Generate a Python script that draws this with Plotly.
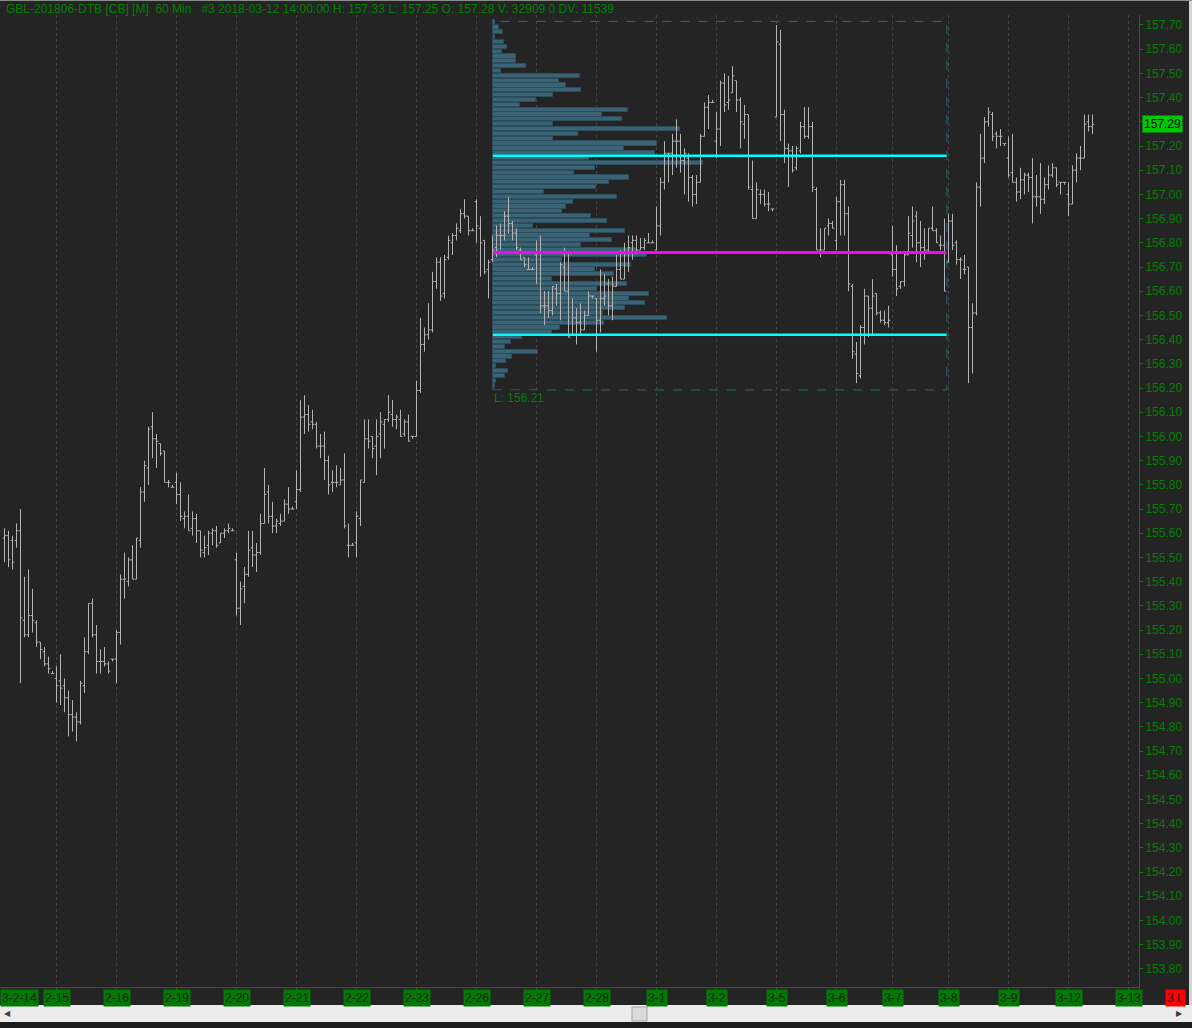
import numpy as np
import plotly.graph_objects as go

# sessions shown on the time axis; bars per session (2-14 is cut at the left edge)
sessions = ["2-14", "2-15", "2-16", "2-19", "2-20", "2-21", "2-22", "2-23", "2-26", "2-27",
            "2-28", "3-1", "3-2", "3-5", "3-6", "3-7", "3-8", "3-9", "3-12", "3-13"]
session_bars = [13, 15, 15, 15, 15, 15, 15, 15, 15, 15, 15, 15, 15, 15, 14, 14, 15, 15, 15]

# hourly OHLC, GBL 201806 (one row per session)
opens = [
    155.58, 155.59, 155.57, 155.57, 155.61, 155.24, 155.18, 155.26, 155.23, 155.15, 155.11, 155.06, 155.02,
    155.00, 154.99, 154.97, 154.92, 154.85, 154.84, 154.82, 154.97, 155.11, 155.31, 155.18, 155.07, 155.07, 155.06, 155.08,
    155.08, 155.19, 155.41, 155.40, 155.49, 155.41, 155.57, 155.77, 155.87, 156.04, 155.99, 155.97, 155.94, 155.81, 155.79,
    155.81, 155.76, 155.66, 155.67, 155.62, 155.66, 155.61, 155.52, 155.55, 155.60, 155.61, 155.56, 155.60, 155.61, 155.61,
    155.49, 155.29, 155.38, 155.43, 155.54, 155.51, 155.52, 155.64, 155.77, 155.67, 155.63, 155.64, 155.65, 155.72, 155.70,
    155.73, 155.78, 156.08, 156.09, 156.06, 156.05, 155.96, 155.96, 155.90, 155.81, 155.81, 155.80, 155.82, 155.55, 155.55,
    155.56, 155.66, 155.81, 155.99, 156.00, 155.96, 156.01, 156.05, 156.07, 156.09, 156.07, 156.07, 156.01, 156.06, 156.00,
    156.00, 156.19, 156.38, 156.42, 156.44, 156.64, 156.72, 156.59, 156.74, 156.80, 156.83, 156.85, 156.92, 156.91, 156.85,
    156.97, 156.86, 156.81, 156.69, 156.73, 156.78, 156.83, 156.83, 156.91, 156.88, 156.84, 156.77, 156.74, 156.69, 156.69,
    156.75, 156.76, 156.54, 156.54, 156.52, 156.61, 156.59, 156.70, 156.60, 156.42, 156.49, 156.47, 156.44, 156.50, 156.58,
    156.57, 156.48, 156.57, 156.63, 156.54, 156.62, 156.69, 156.65, 156.76, 156.80, 156.81, 156.77, 156.78, 156.80, 156.80,
    156.77, 156.87, 157.05, 157.17, 157.17, 157.22, 157.22, 157.14, 157.15, 157.07, 157.00, 157.05, 157.24, 157.36, 157.38,
    157.22, 157.27, 157.46, 157.38, 157.42, 157.47, 157.39, 157.29, 157.33, 157.02, 156.90, 157.00, 157.00, 156.96, 156.94,
    157.32, 157.62, 157.33, 157.19, 157.18, 157.11, 157.18, 157.28, 157.24, 157.28, 157.02, 156.77, 156.77, 156.87, 156.88,
    156.81, 156.97, 157.04, 156.92, 156.62, 156.34, 156.25, 156.45, 156.58, 156.53, 156.59, 156.51, 156.48, 156.47,
    156.75, 156.69, 156.62, 156.64, 156.75, 156.83, 156.91, 156.80, 156.78, 156.77, 156.86, 156.85, 156.79, 156.79,
    156.72, 156.89, 156.80, 156.73, 156.69, 156.70, 156.45, 156.51, 157.03, 157.15, 157.30, 157.33, 157.25, 157.24, 157.21,
    157.15, 157.09, 157.05, 157.01, 157.06, 157.08, 157.07, 156.99, 156.99, 156.98, 157.04, 157.08, 157.11, 157.05, 157.05,
    157.00, 156.96, 157.10, 157.15, 157.15, 157.30, 157.28,
]
highs = [
    155.62, 155.61, 155.59, 155.64, 155.70, 155.42, 155.45, 155.37, 155.24, 155.15, 155.13, 155.09, 155.03,
    155.05, 155.10, 155.00, 154.95, 154.91, 154.86, 154.99, 155.17, 155.31, 155.33, 155.22, 155.12, 155.13, 155.07, 155.08,
    155.20, 155.43, 155.52, 155.50, 155.55, 155.58, 155.79, 155.90, 156.04, 156.10, 156.01, 155.97, 155.94, 155.82, 155.80,
    155.85, 155.81, 155.69, 155.76, 155.69, 155.68, 155.61, 155.59, 155.61, 155.62, 155.63, 155.60, 155.62, 155.64, 155.62,
    155.52, 155.40, 155.46, 155.61, 155.61, 155.56, 155.68, 155.87, 155.80, 155.73, 155.66, 155.68, 155.74, 155.79, 155.71,
    155.86, 156.15, 156.17, 156.13, 156.11, 156.06, 156.01, 156.02, 155.92, 155.86, 155.88, 155.87, 155.93, 155.64, 155.56,
    155.69, 155.82, 156.07, 156.07, 156.00, 156.07, 156.10, 156.07, 156.17, 156.15, 156.09, 156.11, 156.07, 156.09, 156.00,
    156.23, 156.49, 156.45, 156.55, 156.68, 156.74, 156.74, 156.75, 156.83, 156.84, 156.88, 156.94, 156.98, 156.91, 156.86,
    156.98, 156.91, 156.81, 156.73, 156.83, 156.87, 156.88, 156.93, 156.99, 156.89, 156.86, 156.78, 156.74, 156.74, 156.70,
    156.81, 156.83, 156.60, 156.60, 156.62, 156.63, 156.72, 156.78, 156.76, 156.57, 156.53, 156.55, 156.52, 156.60, 156.58,
    156.57, 156.69, 156.67, 156.65, 156.66, 156.75, 156.77, 156.80, 156.83, 156.83, 156.83, 156.82, 156.82, 156.84, 156.81,
    156.95, 157.07, 157.22, 157.17, 157.25, 157.31, 157.25, 157.19, 157.17, 157.08, 157.08, 157.25, 157.38, 157.41, 157.39,
    157.34, 157.47, 157.50, 157.49, 157.53, 157.47, 157.40, 157.37, 157.33, 157.14, 157.05, 157.02, 157.02, 157.01, 156.94,
    157.70, 157.68, 157.35, 157.21, 157.20, 157.20, 157.30, 157.36, 157.36, 157.30, 157.03, 156.86, 156.86, 156.90, 156.89,
    156.99, 157.06, 157.06, 156.95, 156.63, 156.39, 156.46, 156.61, 156.58, 156.65, 156.59, 156.52, 156.52, 156.54,
    156.87, 156.79, 156.64, 156.76, 156.91, 156.95, 156.93, 156.89, 156.86, 156.86, 156.95, 156.86, 156.83, 156.90,
    156.92, 156.92, 156.81, 156.74, 156.75, 156.70, 156.55, 157.05, 157.25, 157.32, 157.36, 157.34, 157.26, 157.27, 157.21,
    157.24, 157.25, 157.07, 157.11, 157.09, 157.09, 157.15, 157.08, 157.13, 157.07, 157.12, 157.13, 157.11, 157.05, 157.05,
    157.05, 157.12, 157.17, 157.20, 157.33, 157.33, 157.33,
]
lows = [
    155.48, 155.46, 155.45, 155.54, 154.98, 155.17, 155.17, 155.19, 155.13, 155.08, 155.05, 155.02, 155.02,
    154.90, 154.89, 154.86, 154.76, 154.78, 154.74, 154.81, 154.94, 155.10, 155.17, 155.02, 155.02, 155.05, 155.02, 155.07,
    154.98, 155.14, 155.33, 155.38, 155.41, 155.41, 155.54, 155.73, 155.80, 155.91, 155.87, 155.92, 155.81, 155.79, 155.79,
    155.72, 155.65, 155.62, 155.61, 155.59, 155.56, 155.50, 155.50, 155.51, 155.55, 155.54, 155.56, 155.58, 155.60, 155.61,
    155.26, 155.22, 155.31, 155.42, 155.46, 155.44, 155.51, 155.64, 155.64, 155.60, 155.60, 155.63, 155.65, 155.68, 155.70,
    155.70, 155.77, 156.01, 156.02, 156.03, 155.95, 155.91, 155.82, 155.76, 155.77, 155.79, 155.80, 155.62, 155.50, 155.55,
    155.50, 155.63, 155.81, 155.95, 155.91, 155.84, 155.91, 155.95, 156.06, 156.04, 156.03, 156.00, 156.00, 155.98, 155.99,
    156.00, 156.18, 156.35, 156.40, 156.43, 156.61, 156.56, 156.57, 156.73, 156.75, 156.81, 156.84, 156.90, 156.83, 156.85,
    156.80, 156.66, 156.67, 156.57, 156.72, 156.74, 156.77, 156.81, 156.84, 156.81, 156.77, 156.73, 156.70, 156.69, 156.69,
    156.63, 156.51, 156.46, 156.49, 156.50, 156.54, 156.48, 156.60, 156.41, 156.42, 156.38, 156.42, 156.44, 156.50, 156.57,
    156.35, 156.43, 156.54, 156.50, 156.48, 156.62, 156.65, 156.65, 156.68, 156.73, 156.76, 156.77, 156.77, 156.80, 156.80,
    156.77, 156.83, 157.02, 157.05, 157.08, 157.11, 157.09, 157.00, 156.97, 156.95, 156.96, 157.05, 157.24, 157.27, 157.38,
    157.15, 157.20, 157.34, 157.35, 157.42, 157.34, 157.19, 157.23, 157.02, 156.90, 156.90, 156.96, 156.95, 156.93, 156.93,
    157.32, 157.22, 157.13, 157.03, 157.09, 157.10, 157.17, 157.23, 157.23, 157.01, 156.77, 156.74, 156.77, 156.83, 156.86,
    156.77, 156.83, 156.83, 156.60, 156.32, 156.22, 156.24, 156.38, 156.41, 156.42, 156.50, 156.47, 156.46, 156.45,
    156.66, 156.58, 156.61, 156.62, 156.75, 156.78, 156.72, 156.70, 156.73, 156.76, 156.85, 156.80, 156.77, 156.60,
    156.72, 156.77, 156.71, 156.65, 156.67, 156.22, 156.26, 156.50, 156.95, 157.13, 157.28, 157.22, 157.19, 157.20, 157.20,
    157.07, 157.05, 156.97, 156.98, 157.00, 157.01, 156.88, 156.95, 156.92, 156.96, 157.02, 157.07, 157.03, 157.00, 157.04,
    156.91, 156.96, 157.05, 157.10, 157.15, 157.26, 157.25,
]
closes = [
    155.59, 155.49, 155.48, 155.61, 155.25, 155.18, 155.26, 155.24, 155.15, 155.12, 155.06, 155.04, 155.02,
    154.97, 154.96, 154.92, 154.85, 154.84, 154.82, 154.98, 155.11, 155.31, 155.18, 155.07, 155.07, 155.06, 155.03, 155.08,
    155.19, 155.41, 155.41, 155.49, 155.41, 155.58, 155.77, 155.88, 156.03, 155.99, 155.98, 155.93, 155.81, 155.81, 155.79,
    155.76, 155.67, 155.67, 155.61, 155.66, 155.61, 155.53, 155.54, 155.60, 155.61, 155.55, 155.60, 155.61, 155.62, 155.61,
    155.29, 155.37, 155.43, 155.53, 155.51, 155.52, 155.64, 155.76, 155.67, 155.63, 155.65, 155.65, 155.72, 155.70, 155.70,
    155.78, 156.08, 156.09, 156.05, 156.05, 155.96, 155.96, 155.90, 155.80, 155.81, 155.81, 155.82, 155.63, 155.55, 155.55,
    155.67, 155.82, 155.99, 155.98, 155.95, 156.00, 156.06, 156.07, 156.10, 156.07, 156.08, 156.00, 156.06, 155.98, 156.00,
    156.19, 156.38, 156.42, 156.44, 156.64, 156.72, 156.58, 156.73, 156.81, 156.83, 156.86, 156.92, 156.91, 156.85, 156.85,
    156.87, 156.80, 156.68, 156.72, 156.77, 156.83, 156.83, 156.91, 156.88, 156.84, 156.78, 156.73, 156.71, 156.69, 156.69,
    156.76, 156.54, 156.54, 156.52, 156.62, 156.59, 156.71, 156.60, 156.41, 156.49, 156.47, 156.44, 156.50, 156.58, 156.58,
    156.48, 156.57, 156.58, 156.54, 156.62, 156.69, 156.65, 156.76, 156.78, 156.81, 156.77, 156.78, 156.81, 156.80, 156.80,
    156.87, 157.05, 157.17, 157.17, 157.22, 157.22, 157.14, 157.17, 157.07, 157.00, 157.05, 157.24, 157.36, 157.38, 157.38,
    157.27, 157.46, 157.37, 157.39, 157.49, 157.39, 157.30, 157.33, 157.03, 156.90, 157.02, 157.00, 156.96, 156.96, 156.94,
    157.63, 157.33, 157.19, 157.18, 157.10, 157.19, 157.28, 157.24, 157.28, 157.03, 156.77, 156.77, 156.86, 156.88, 156.86,
    156.97, 157.04, 156.92, 156.63, 156.35, 156.26, 156.45, 156.58, 156.53, 156.58, 156.51, 156.48, 156.47, 156.48,
    156.69, 156.61, 156.64, 156.75, 156.84, 156.89, 156.80, 156.78, 156.77, 156.86, 156.85, 156.80, 156.79, 156.60,
    156.89, 156.79, 156.73, 156.73, 156.69, 156.45, 156.51, 157.03, 157.15, 157.30, 157.34, 157.24, 157.24, 157.24, 157.21,
    157.08, 157.05, 157.01, 157.06, 157.08, 157.07, 156.99, 156.99, 156.98, 157.04, 157.08, 157.11, 157.04, 157.05, 157.05,
    156.96, 157.10, 157.15, 157.15, 157.29, 157.28, 157.29,
]

# volume profile (2-26 .. 3-7), price levels every 0.02 from 157.71 down to 156.21
profile_high = 157.71
profile_step = 0.02
profile_volume = [
    5, 18, 30, 5, 33, 41, 27, 68, 68, 98, 23, 260, 197, 218, 263, 179, 129, 80, 405, 326,
    387, 179, 561, 254, 179, 491, 393, 485, 287, 630, 306, 243, 407, 348, 308, 153, 371, 240, 218, 207,
    293, 343, 120, 396, 291, 357, 263, 433, 461, 206, 414, 306, 362, 177, 401, 313, 468, 408, 455, 396,
    329, 521, 333, 201, 177, 87, 53, 35, 135, 56, 38, 8, 45, 35, 8, 5,
]
profile_low = 156.21
vah, poc, val = 157.16, 156.76, 156.42
last_price = 157.29

header = ("GBL-201806-DTB [CB] [M]\u00a0\u00a060 Min\u00a0\u00a0\u00a0#3 2018-03-12 14:00:00 "
          "H: 157.33 L: 157.25 O: 157.28 V: 32909 0 DV: 11539")

# ---------------------------------------------------------------------------
W, H = 1192, 1028
ML, MR, MT, MB = 0, 53, 15, 41
PW, PH = W - ML - MR, H - MT - MB
BG = "#242424"
GREEN = "#008000"
FONT = "Liberation Sans, Arial, sans-serif"


def px(x):
    return (x - ML) / PW


def py(y):
    return (H - MB - y) / PH


x = np.arange(1, len(closes) + 1)
starts = 1 + np.concatenate([[0], np.cumsum(session_bars)])

levels = [round(profile_high - profile_step * k, 2) for k in range(len(profile_volume))]
profile_x0 = 123.1
profile_x1 = 236.6
profile_scale = 1 / 12.0

fig = go.Figure()

fig.add_trace(go.Bar(
    orientation="h",
    y=levels,
    x=[v * profile_scale for v in profile_volume],
    base=profile_x0,
    width=0.0172,
    marker=dict(color="#3a6475", line=dict(color="#2c4e5c", width=1)),
    hoverinfo="skip",
    showlegend=False,
))

fig.add_trace(go.Ohlc(
    x=x, open=opens, high=highs, low=lows, close=closes,
    increasing=dict(line=dict(color="#b4b4b4", width=1)),
    decreasing=dict(line=dict(color="#b4b4b4", width=1)),
    tickwidth=0.45,
    hoverinfo="skip",
    showlegend=False,
))

shapes = [
    # profile box
    dict(type="rect", xref="x", yref="y", x0=profile_x0, x1=profile_x1,
         y0=profile_low - 0.018, y1=profile_high + 0.005,
         line=dict(color="#256c7e", width=1, dash="dash"), layer="below"),
    dict(type="line", xref="x", yref="y", x0=profile_x0, x1=profile_x1 - 0.1, y0=vah, y1=vah,
         line=dict(color="#00ffff", width=2.5), layer="above"),
    dict(type="line", xref="x", yref="y", x0=profile_x0, x1=profile_x1 - 0.1, y0=val, y1=val,
         line=dict(color="#00ffff", width=2.5), layer="above"),
    dict(type="line", xref="x", yref="y", x0=profile_x0, x1=profile_x1 - 0.1, y0=poc, y1=poc,
         line=dict(color="#ff00ff", width=3), layer="above"),
    # window chrome
    dict(type="rect", xref="paper", yref="paper", x0=px(0), x1=px(W), y0=py(1005), y1=py(1022),
         fillcolor="#ececec", line=dict(width=0), layer="above"),
    dict(type="rect", xref="paper", yref="paper", x0=px(0), x1=px(W), y0=py(1022), y1=py(H),
         fillcolor="#1c1c1c", line=dict(width=0), layer="above"),
    dict(type="rect", xref="paper", yref="paper", x0=px(632), x1=px(647), y0=py(1007), y1=py(1021),
         fillcolor="#dadada", line=dict(color="#a6a6a6", width=1), layer="above"),
    dict(type="rect", xref="paper", yref="paper", x0=px(1189), x1=px(W), y0=py(0), y1=py(1005),
         fillcolor="#d4d4d4", line=dict(width=0), layer="above"),
    dict(type="line", xref="paper", yref="paper", x0=px(0), x1=px(W), y0=py(0.5), y1=py(0.5),
         line=dict(color="#8c8c8c", width=1), layer="above"),
]

annotations = [
    dict(xref="paper", yref="paper", x=px(4), y=py(9), xanchor="left", yanchor="middle",
         text=header, showarrow=False, font=dict(family=FONT, size=12, color=GREEN)),
    dict(xref="x", yref="y", x=profile_x0, y=profile_low - 0.05, xanchor="left", yanchor="middle",
         text="L: 156.21", showarrow=False, bgcolor=BG, borderpad=0,
         font=dict(family=FONT, size=12, color=GREEN)),
    dict(xref="paper", yref="y", x=px(1142), y=last_price, xanchor="left", yanchor="middle",
         text="157.29", showarrow=False, bgcolor="#00c800", borderpad=1,
         font=dict(family=FONT, size=12, color="#000000")),
    dict(xref="paper", yref="paper", x=px(0), y=0, xanchor="left", yanchor="top", yshift=-2,
         text="3-2-14", showarrow=False, bgcolor="#007a00", borderpad=1,
         font=dict(family=FONT, size=12, color="#1c1c1c")),
    dict(xref="paper", yref="paper", x=px(1175), y=0, xanchor="center", yanchor="top", yshift=-2,
         text="3\u00a0L", showarrow=False, bgcolor="#ff0000", borderpad=1,
         font=dict(family=FONT, size=12, color="#3a0000")),
    dict(xref="paper", yref="paper", x=px(7), y=py(1013.5), xanchor="center", yanchor="middle",
         text="\u25c0", showarrow=False, font=dict(family=FONT, size=8, color="#404040")),
    dict(xref="paper", yref="paper", x=px(1179), y=py(1013.5), xanchor="center", yanchor="middle",
         text="\u25b6", showarrow=False, font=dict(family=FONT, size=8, color="#404040")),
]
for label, s in zip(sessions[1:], starts[1:]):
    annotations.append(dict(
        xref="x", yref="paper", x=s, y=0, xanchor="center", yanchor="top", yshift=-2,
        text=label, showarrow=False, bgcolor="#007a00", borderpad=1,
        font=dict(family=FONT, size=12, color="#1c1c1c"),
    ))

fig.update_layout(
    width=W, height=H,
    margin=dict(l=ML, r=MR, t=MT, b=MB),
    paper_bgcolor=BG, plot_bgcolor=BG,
    showlegend=False,
    bargap=0,
    shapes=shapes,
    annotations=annotations,
    font=dict(family=FONT, size=12, color=GREEN),
    xaxis=dict(
        range=[-0.125, PW / 4 - 0.125],
        rangeslider=dict(visible=False),
        tickmode="array", tickvals=list(starts[1:]), showticklabels=False,
        ticks="outside", ticklen=4, tickcolor=GREEN,
        showline=True, linecolor=GREEN, linewidth=1,
        showgrid=True, gridcolor="#454545", griddash="dot", gridwidth=1,
        zeroline=False, fixedrange=True,
    ),
    yaxis=dict(
        side="right",
        range=[153.7248, 157.7413],
        tickmode="linear", tick0=153.8, dtick=0.1, tickformat=".2f",
        ticks="outside", ticklen=3, tickcolor=GREEN,
        tickfont=dict(family=FONT, size=12, color=GREEN),
        showline=True, linecolor=GREEN, linewidth=1,
        showgrid=False, zeroline=False, fixedrange=True,
    ),
)

# the page body has a default 8px margin; drop it so the chart fills the window
fig.write_html(
    "out.html",
    config={"displayModeBar": False},
    post_script="document.body.style.margin='0';document.body.style.overflow='hidden';",
)
